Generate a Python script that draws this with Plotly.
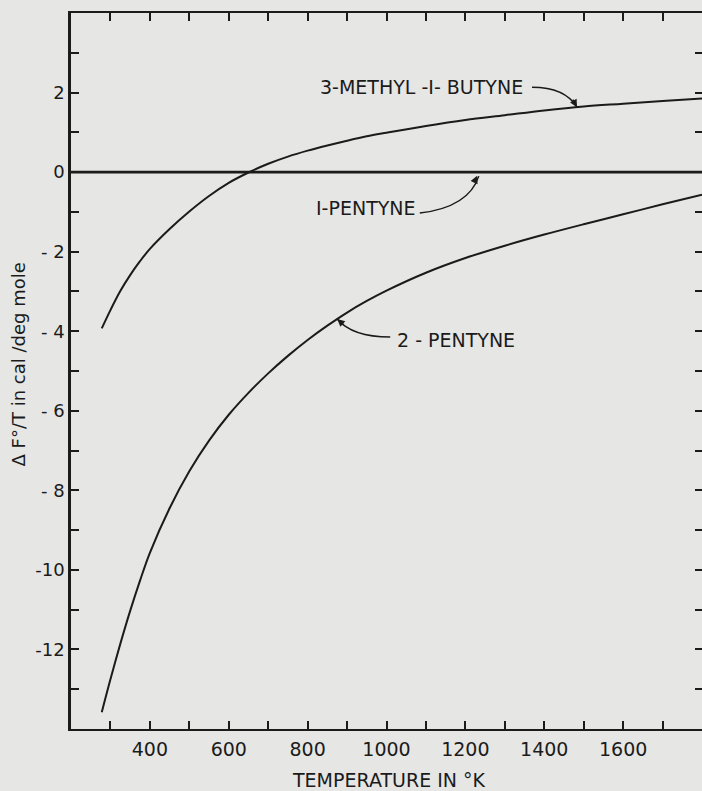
import numpy as np
import plotly.graph_objects as go

# Temperature grid (K) and ΔF°/T (cal/deg mole) relative to 1-pentyne
temp_methylbutyne = [278, 300, 325, 350, 375, 400, 450, 500, 550, 600, 650, 700,
                     750, 800, 850, 900, 950, 1000, 1100, 1200, 1300, 1400, 1500,
                     1600, 1700, 1800]
dft_methylbutyne = [-3.93, -3.47, -2.99, -2.59, -2.24, -1.93, -1.43, -0.99, -0.60,
                    -0.27, -0.01, 0.21, 0.39, 0.54, 0.67, 0.79, 0.90, 0.99, 1.16,
                    1.31, 1.43, 1.55, 1.65, 1.72, 1.79, 1.85]

temp_2pentyne = [278, 300, 325, 350, 375, 400, 450, 500, 550, 600, 650, 700, 750,
                 800, 850, 900, 950, 1000, 1100, 1200, 1300, 1400, 1500, 1600,
                 1700, 1800]
dft_2pentyne = [-13.58, -12.75, -11.86, -11.03, -10.27, -9.57, -8.45, -7.52, -6.75,
                -6.10, -5.55, -5.06, -4.62, -4.22, -3.86, -3.53, -3.24, -2.98,
                -2.53, -2.16, -1.85, -1.57, -1.31, -1.06, -0.81, -0.57]

temp_1pentyne = [200, 1800]
dft_1pentyne = [0, 0]

x_tick_vals = list(range(300, 1800, 100))
x_tick_text = ["400", "600", "800", "1000", "1200", "1400", "1600"]
y_tick_vals = list(range(-13, 4))
y_tick_text = {2: "2", 0: "0", -2: "- 2", -4: "- 4", -6: "- 6", -8: "- 8",
               -10: "-10", -12: "-12"}

INK = "#1b1b1b"
PAPER = "#e6e6e4"
FONT = "DejaVu Sans"

fig = go.Figure()

fig.add_trace(go.Scatter(x=temp_1pentyne, y=dft_1pentyne, mode="lines",
                         line=dict(color=INK, width=2.6), showlegend=False))
fig.add_trace(go.Scatter(x=temp_methylbutyne, y=dft_methylbutyne, mode="lines",
                         line=dict(color=INK, width=2.0, shape="spline", smoothing=1.0),
                         showlegend=False))
fig.add_trace(go.Scatter(x=temp_2pentyne, y=dft_2pentyne, mode="lines",
                         line=dict(color=INK, width=2.0, shape="spline", smoothing=1.0),
                         showlegend=False))
# carrier for the right-hand tick axis
fig.add_trace(go.Scatter(x=[None], y=[None], yaxis="y2", showlegend=False,
                         hoverinfo="skip"))

xt_text = [str(v) if str(v) in x_tick_text else "" for v in x_tick_vals]
yt_text = [y_tick_text.get(v, "") for v in y_tick_vals]

fig.update_layout(
    width=702, height=791,
    margin=dict(l=71, r=0, t=13, b=62),
    paper_bgcolor=PAPER, plot_bgcolor=PAPER,
    font=dict(family=FONT, size=18, color=INK),
    xaxis=dict(range=[200, 1800], tickvals=x_tick_vals, ticktext=xt_text,
               ticks="inside", ticklen=8, tickwidth=1.8, tickcolor=INK,
               showline=True, linewidth=2.4, linecolor=INK, mirror="ticks",
               showgrid=False, zeroline=False, ticklabelstandoff=2,
               tickfont=dict(family=FONT, size=19, color=INK)),
    yaxis=dict(range=[-14, 4], tickvals=y_tick_vals, ticktext=yt_text,
               ticks="inside", ticklen=8, tickwidth=1.8, tickcolor=INK,
               showline=True, linewidth=2.6, linecolor=INK,
               showgrid=False, zeroline=False, ticklabelstandoff=0,
               tickfont=dict(family=FONT, size=18, color=INK)),
    yaxis2=dict(range=[-14, 4], overlaying="y", side="right",
                tickvals=y_tick_vals, ticks="inside", ticklen=7, tickwidth=1.8,
                tickcolor=INK, showticklabels=False, showline=False,
                showgrid=False, zeroline=False),
)

# axis titles
fig.add_annotation(text="TEMPERATURE IN °K", xref="paper", yref="paper",
                   x=(389 - 71) / 631, y=-(780 - 729) / 716, showarrow=False,
                   font=dict(family=FONT, size=19, color=INK),
                   xanchor="center", yanchor="middle")
fig.add_annotation(text="Δ F°/T in cal /deg mole", xref="paper", yref="paper",
                   x=-(71 - 17.5) / 631, y=(729 - 365) / 716, showarrow=False,
                   textangle=-90, font=dict(family=FONT, size=18, color=INK),
                   xanchor="center", yanchor="middle")


def label(text, x, y, anchor, tip_x, series_x, series_y, path, tail, standoff=0):
    tip_y = float(np.interp(tip_x, series_x, series_y))
    fig.add_annotation(text=text, x=x, y=y, xref="x", yref="y", showarrow=False,
                       xanchor=anchor, yanchor="middle",
                       font=dict(family=FONT, size=19, color=INK))
    fig.add_shape(type="path", xref="x", yref="y", xsizemode="pixel",
                  ysizemode="pixel", xanchor=tip_x, yanchor=tip_y, path=path,
                  line=dict(color=INK, width=1.5))
    fig.add_annotation(text="", x=tip_x, y=tip_y, xref="x", yref="y",
                       ax=tail[0], ay=tail[1], showarrow=True, arrowhead=2,
                       arrowsize=1, arrowwidth=1.5, arrowcolor=INK,
                       standoff=standoff)


label("3-METHYL -I- BUTYNE", 1351, 2.13, "right", 1483,
      temp_methylbutyne, dft_methylbutyne, "M-45,20 Q-12,20 0,0", (-5, -9))
label("I-PENTYNE", 1080, -0.9, "right", 1234,
      temp_1pentyne, dft_1pentyne, "M-59,-41 Q-10,-35 0,-4", (-4, 9), standoff=4)
label("2 - PENTYNE", 1021, -4.22, "left", 875,
      temp_2pentyne, dft_2pentyne, "M53,-18 Q15,-18 0,0", (8, 7))

fig.write_html("out.html")
